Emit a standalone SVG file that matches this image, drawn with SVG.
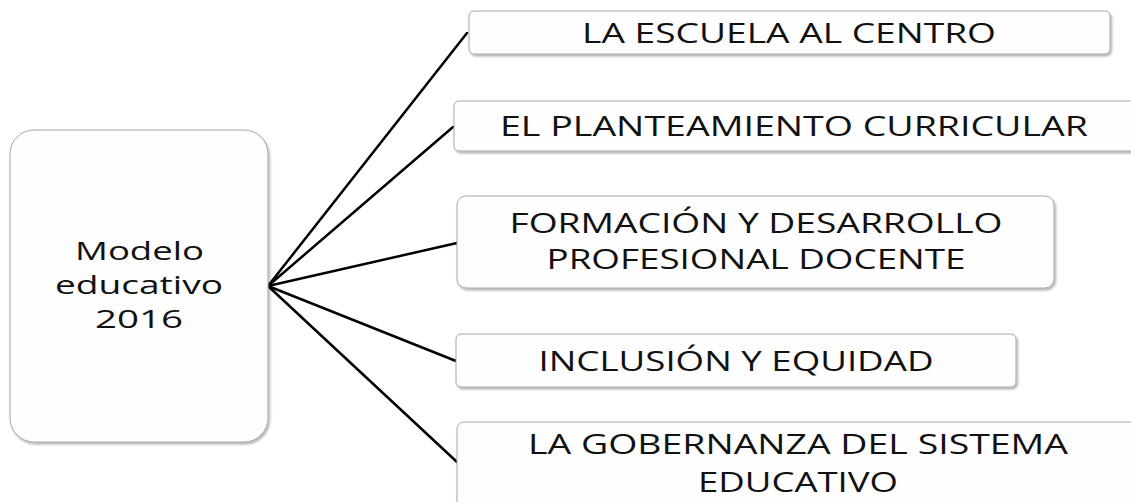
<svg xmlns="http://www.w3.org/2000/svg" width="1131" height="502" viewBox="0 0 1131 502">
  <defs>
    <filter id="sh" x="-5%" y="-20%" width="110%" height="140%">
      <feDropShadow dx="1.5" dy="2" stdDeviation="1.2" flood-color="#000" flood-opacity="0.3"/>
    </filter>
  </defs>
  <style>
    .box { fill: #fefefe; stroke: #a6a6a6; stroke-width: 1; filter: url(#sh); }
    .lbl { font-family: "Open Sans", "Liberation Sans", sans-serif; font-size: 28px; fill: #111; text-anchor: middle; }
    .main { font-family: "Open Sans", "Liberation Sans", sans-serif; font-size: 26px; fill: #111; text-anchor: middle; }
    .con { stroke: #000; stroke-width: 2.5; fill: none; stroke-linecap: round; }
  </style>
  <rect width="1131" height="502" fill="#ffffff"/>

  <g id="connectors">
    <line class="con" x1="268" y1="286" x2="467" y2="33"/>
    <line class="con" x1="268" y1="286" x2="453" y2="127"/>
    <line class="con" x1="268" y1="286" x2="457" y2="243"/>
    <line class="con" x1="268" y1="286" x2="456" y2="361"/>
    <line class="con" x1="268" y1="286" x2="457" y2="462"/>
  </g>

  <g id="node-modelo">
    <rect class="box" x="10" y="130" width="258" height="312" rx="24" ry="24"/>
    <text class="main" x="139.5" y="260" textLength="129" lengthAdjust="spacingAndGlyphs">Modelo</text>
    <text class="main" x="139" y="294" textLength="168" lengthAdjust="spacingAndGlyphs">educativo</text>
    <text class="main" x="139" y="328" textLength="88" lengthAdjust="spacingAndGlyphs">2016</text>
  </g>

  <g id="node-escuela">
    <rect class="box" x="469" y="11" width="641" height="43" rx="5" ry="5"/>
    <text class="lbl" x="789" y="43" textLength="414" lengthAdjust="spacingAndGlyphs">LA ESCUELA AL CENTRO</text>
  </g>

  <g id="node-planteamiento">
    <rect class="box" x="454" y="101" width="682" height="50" rx="5" ry="5"/>
    <text class="lbl" x="794" y="136" textLength="588" lengthAdjust="spacingAndGlyphs">EL PLANTEAMIENTO  CURRICULAR</text>
  </g>

  <g id="node-formacion">
    <rect class="box" x="457" y="196" width="597" height="92" rx="9" ry="9"/>
    <text class="lbl" x="756" y="233" textLength="493" lengthAdjust="spacingAndGlyphs">FORMACIÓN Y DESARROLLO</text>
    <text class="lbl" x="756" y="269" textLength="419" lengthAdjust="spacingAndGlyphs">PROFESIONAL DOCENTE</text>
  </g>

  <g id="node-inclusion">
    <rect class="box" x="456" y="334" width="560" height="53" rx="5" ry="5"/>
    <text class="lbl" x="736" y="371" textLength="395" lengthAdjust="spacingAndGlyphs">INCLUSIÓN Y EQUIDAD</text>
  </g>

  <g id="node-gobernanza">
    <rect class="box" x="457" y="422" width="684" height="100" rx="7" ry="7"/>
    <text class="lbl" x="798" y="454" textLength="540" lengthAdjust="spacingAndGlyphs">LA GOBERNANZA  DEL SISTEMA</text>
    <text class="lbl" x="798" y="492" textLength="200" lengthAdjust="spacingAndGlyphs">EDUCATIVO</text>
  </g>
</svg>
